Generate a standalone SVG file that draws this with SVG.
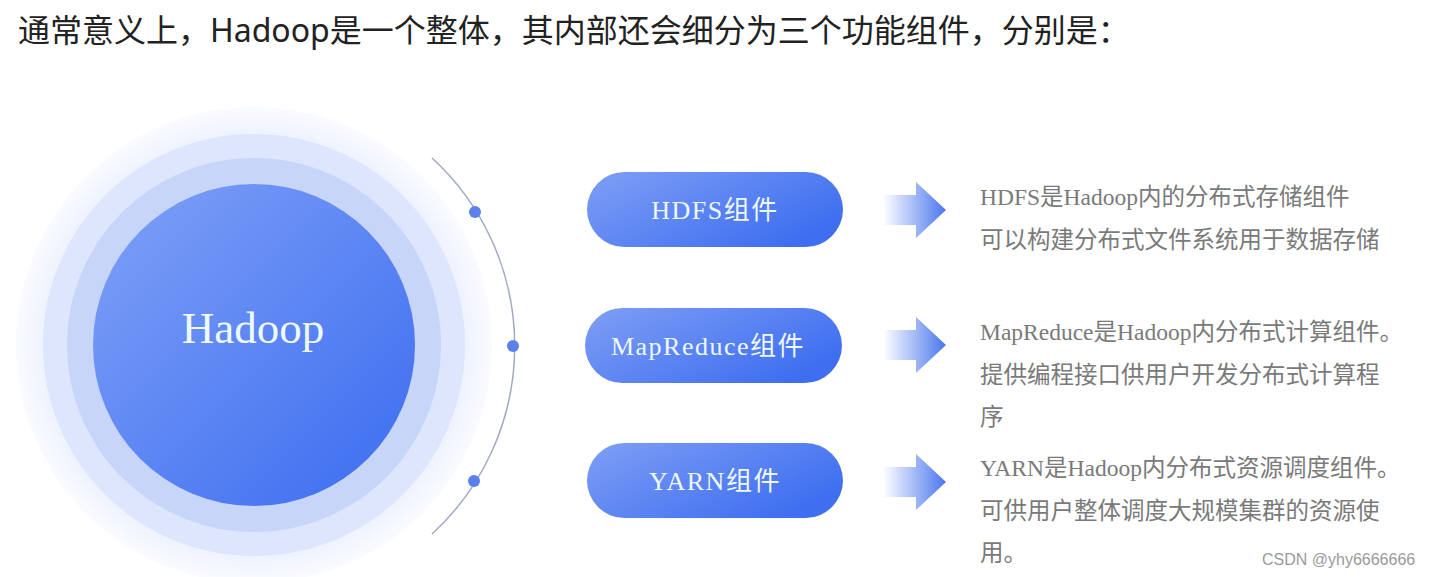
<svg xmlns="http://www.w3.org/2000/svg" width="1430" height="577" viewBox="0 0 1430 577">
<defs>
<style>
.title{font-family:"Noto Sans","Noto Sans CJK SC",sans-serif;font-size:32px;fill:#222}
.pill-t{font-family:"Liberation Serif","Noto Sans CJK SC",serif;font-size:26px;fill:#eef8ff;letter-spacing:1.5px}
.desc{font-family:"Liberation Serif","Noto Sans CJK SC",serif;font-size:23.5px;fill:#7a7a7a}
.dot{fill:#5b80ea}
.wm{font-family:"Liberation Sans",sans-serif;font-size:16px;fill:#9a9a9a}
</style>
<linearGradient id="gMain" x1="0" y1="0" x2="1" y2="1">
<stop offset="0" stop-color="#7fa1f7"/>
<stop offset="1" stop-color="#3b6cf0"/>
</linearGradient>
<linearGradient id="gPill" x1="0" y1="0" x2="1" y2="0.6">
<stop offset="0" stop-color="#7f9ff5"/>
<stop offset="1" stop-color="#3f6ff0"/>
</linearGradient>
<linearGradient id="gArrow" x1="0" y1="0" x2="1" y2="0">
<stop offset="0" stop-color="#ffffff"/>
<stop offset="1" stop-color="#4a76ee"/>
</linearGradient>
<radialGradient id="gGlow" cx="0.5" cy="0.5" r="0.5">
<stop offset="0.82" stop-color="#e8eefd"/>
<stop offset="1" stop-color="#f9fbff"/>
</radialGradient>
<path id="arrow" d="M0,-15 H33 V-28 L63,0 L33,28 V15 H0 Z" fill="url(#gArrow)"/>
</defs>
<rect width="1430" height="577" fill="#ffffff"/>
<text class="title" x="18" y="42">通常意义上，Hadoop是一个整体，其内部还会细分为三个功能组件，分别是：</text>

<g id="hadoop">
<circle cx="254" cy="345" r="238" fill="url(#gGlow)"/>
<circle cx="254" cy="345" r="211" fill="#dde6fc"/>
<circle cx="254" cy="345" r="187" fill="#c7d5f9"/>
<circle cx="254" cy="345" r="161" fill="url(#gMain)"/>
<text x="253" y="343" text-anchor="middle" font-family="Liberation Serif, serif" font-size="45" fill="#eefaff">Hadoop</text>
</g>

<g id="connectors">
<path d="M432,158 A255,255 0 0 1 432,534" fill="none" stroke="#a2a9c4" stroke-width="1.5"/>
<circle class="dot" cx="475" cy="212" r="6"/>
<circle class="dot" cx="513" cy="346" r="6"/>
<circle class="dot" cx="474" cy="481" r="6"/>
<use href="#arrow" x="883" y="210"/>
<use href="#arrow" x="883" y="345"/>
<use href="#arrow" x="883" y="482"/>
</g>

<g id="hdfs">
<rect x="587" y="172" width="256" height="75" rx="37.5" fill="url(#gPill)"/>
<text class="pill-t" x="715" y="219" text-anchor="middle">HDFS组件</text>
</g>
<g id="mapreduce">
<rect x="585" y="308" width="257" height="75" rx="37.5" fill="url(#gPill)"/>
<text class="pill-t" x="708" y="355" text-anchor="middle">MapReduce组件</text>
</g>
<g id="yarn">
<rect x="587" y="443" width="256" height="75" rx="37.5" fill="url(#gPill)"/>
<text class="pill-t" x="715" y="490" text-anchor="middle">YARN组件</text>
</g>

<g id="hdfs-desc">
<text class="desc" x="980" y="205">HDFS是Hadoop内的分布式存储组件</text>
<text class="desc" x="980" y="248">可以构建分布式文件系统用于数据存储</text>
</g>
<g id="mapreduce-desc">
<text class="desc" x="980" y="340">MapReduce是Hadoop内分布式计算组件。</text>
<text class="desc" x="980" y="383">提供编程接口供用户开发分布式计算程</text>
<text class="desc" x="980" y="425">序</text>
</g>
<g id="yarn-desc">
<text class="desc" x="980" y="476">YARN是Hadoop内分布式资源调度组件。</text>
<text class="desc" x="980" y="519">可供用户整体调度大规模集群的资源使</text>
<text class="desc" x="980" y="561">用。</text>
</g>
<text class="wm" x="1262" y="565">CSDN @yhy6666666</text>
</svg>
